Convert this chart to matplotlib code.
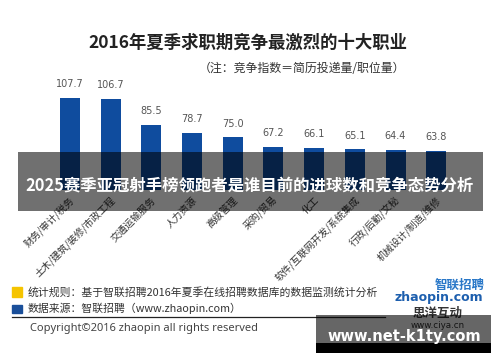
import matplotlib
import numpy as np

matplotlib.use("Agg")
import matplotlib.pyplot as plt
from matplotlib.patches import Rectangle
from matplotlib.transforms import ScaledTranslation

plt.rcParams["font.family"] = ["Noto Sans CJK SC", "DejaVu Sans"]

W, H = 500, 362

jobs = [
    "财务/审计/税务",
    "土木/建筑/装修/市政工程",
    "交通运输服务",
    "人力资源",
    "高级管理",
    "采购/贸易",
    "化工",
    "软件/互联网开发/系统集成",
    "行政/后勤/文秘",
    "机械设计/制造/维修",
]
index = [107.7, 106.7, 85.5, 78.7, 75.0, 67.2, 66.1, 65.1, 64.4, 63.8]

title = "2016年夏季求职期竞争最激烈的十大职业"
note = "（注：竞争指数＝简历投递量/职位量）"
banner = "2025赛季亚冠射手榜领跑者是谁目前的进球数和竞争态势分析"
rule_text = "统计规则：基于智联招聘2016年夏季在线招聘数据库的数据监测统计分析"
source_text = "数据来源：智联招聘（www.zhaopin.com）"
copyright_text = "Copyright©2016 zhaopin all rights reserved"


def fx(px):
    return px / W


def fy(py):
    return 1 - py / H


fig = plt.figure(figsize=(W / 100, H / 100), dpi=100)
fig.patch.set_facecolor("white")

# bar axes placed in pixel space of the original graphic
ax_left, ax_right, ax_top, ax_bottom = 49.6, 456.6, 80, 190
ax = fig.add_axes([fx(ax_left), fy(ax_bottom), fx(ax_right - ax_left), (ax_bottom - ax_top) / H])
x = np.arange(len(jobs))
ax.bar(x, index, width=0.49, color="#0f4c9e", zorder=2)
ax.set_xlim(-0.5, len(jobs) - 0.5)
ax.set_ylim(31.5, 122.6)
for xi, v in zip(x, index):
    ax.annotate(f"{v:.1f}", (xi, v), xytext=(0, 10), textcoords="offset points",
                ha="center", va="center", fontsize=7, color="#555555",
                family=["DejaVu Sans"])
ax.set_xticks(x)
ax.set_xticklabels(jobs, rotation=45, ha="right", va="center",
                   rotation_mode="anchor", fontsize=7, color="#333333")
ax.tick_params(axis="x", length=0, pad=6)
offset = ScaledTranslation(3 / 100, 0, fig.dpi_scale_trans)
for lbl in ax.get_xticklabels():
    lbl.set_transform(lbl.get_transform() + offset)
ax.set_yticks([])
for s in ax.spines.values():
    s.set_visible(False)
ax.patch.set_alpha(0)

fig.text(fx(248), fy(43), title, ha="center", va="center", fontsize=12.5,
         fontweight="bold", color="#222222")
fig.text(fx(302), fy(69), note, ha="center", va="center", fontsize=8.6,
         color="#333333")

# footer legend squares and notes
fig.patches.append(Rectangle((fx(12), fy(297)), fx(10), 10 / H, transform=fig.transFigure,
                             color="#f5c400", zorder=3))
fig.patches.append(Rectangle((fx(12), fy(313)), fx(10), 8 / H, transform=fig.transFigure,
                             color="#1a4f9a", zorder=3))
fig.text(fx(28), fy(292), rule_text, ha="left", va="center", fontsize=7.8, color="#333333")
fig.text(fx(28), fy(308), source_text, ha="left", va="center", fontsize=7.8, color="#333333")
fig.add_artist(plt.Line2D([fx(12), fx(385)], [fy(317), fy(317)], color="#222222", lw=0.9))
fig.text(fx(30), fy(329), copyright_text, ha="left", va="center", fontsize=8,
         color="#444444", family=["Noto Sans", "DejaVu Sans"])

# logo block
fig.text(fx(485), fy(285), "智联招聘", ha="right", va="center", fontsize=9,
         fontweight="bold", color="#2a78c8")
fig.text(fx(483), fy(298), "zhaopin.com", ha="right", va="center", fontsize=9,
         fontweight="bold", color="#1d5fae", family=["DejaVu Sans"])
fig.text(fx(438), fy(313), "思洋互动", ha="center", va="center", fontsize=9,
         fontweight="bold", color="#333333")
fig.text(fx(438), fy(325.5), "www.ciya.cn", ha="center", va="center", fontsize=6.3,
         color="#333333", family=["DejaVu Sans"])

# overlays on top of the graphic
fig.patches.append(Rectangle((fx(18), fy(211)), fx(465), 59 / H, transform=fig.transFigure,
                             color="black", alpha=0.56, lw=0, zorder=5))
fig.text(fx(250), fy(186), banner, ha="center", va="center", fontsize=11.8,
         fontweight="bold", color="white", zorder=6)
fig.patches.append(Rectangle((fx(316), fy(343)), fx(175), 28 / H, transform=fig.transFigure,
                             color="black", alpha=0.6, lw=0, zorder=5))
fig.patches.append(Rectangle((fx(316), fy(353)), fx(175), 10 / H, transform=fig.transFigure,
                             color="black", lw=0, zorder=5))
fig.text(fx(404), fy(336), "www.net-k1ty.com", ha="center", va="center", fontsize=10.5,
         fontweight="bold", color="white", family=["DejaVu Sans"], zorder=6)

fig.savefig("out.png", dpi=100)
